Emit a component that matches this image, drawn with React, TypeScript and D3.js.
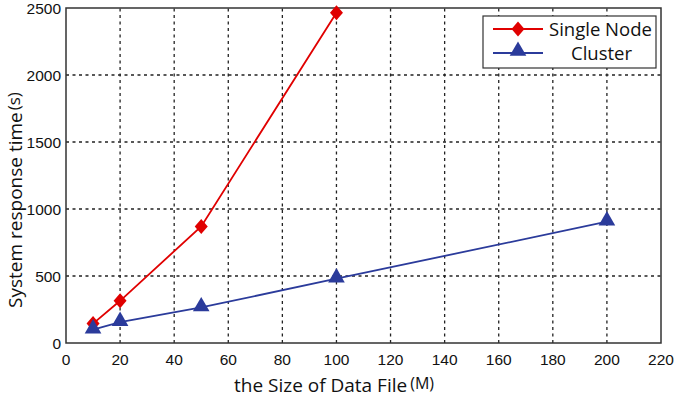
import React from "react";
import * as d3 from "d3";

const xTicks = [0, 20, 40, 60, 80, 100, 120, 140, 160, 180, 200, 220];
const yTicks = [0, 500, 1000, 1500, 2000, 2500];
const singleX = [10, 20, 50, 100];
const singleY = [145, 315, 870, 2465];
const clusterX = [10, 20, 50, 100, 200];
const clusterY = [100, 155, 265, 480, 905];
const seriesNames = ["Single Node", "Cluster"];

const W = 676, H = 401;
const M = { left: 66, right: 15, top: 8, bottom: 58 };

export default function App() {
  const x = d3.scaleLinear().domain([0, 220]).range([M.left, W - M.right]);
  const y = d3.scaleLinear().domain([0, 2500]).range([H - M.bottom, M.top]);
  const line = d3.line<[number, number]>().x(d => x(d[0])).y(d => y(d[1]));
  const single: [number, number][] = singleX.map((v, i) => [v, singleY[i]]);
  const cluster: [number, number][] = clusterX.map((v, i) => [v, clusterY[i]]);
  const red = "#e00000";
  const blue = "#2b3b9b";
  const diamond = "M0,-7.5L6.5,0L0,7.5L-6.5,0Z";
  const tri = d3.symbol().type(d3.symbolTriangle).size(120)()!;
  const tickFont = "'Liberation Sans', Arial, sans-serif";
  const labelFont = "'Open Sans', 'Noto Sans', sans-serif";
  const x0 = M.left, x1 = W - M.right, y0 = H - M.bottom, y1 = M.top;
  return (
    <svg width={W} height={H} style={{ position: "absolute", left: 0, top: 0, background: "#fff" }}>
      <rect x={0} y={0} width={W} height={H} fill="#fff" />
      {xTicks.slice(1, -1).map(t => (
        <line key={"gx" + t} x1={x(t)} x2={x(t)} y1={y0} y2={y1} stroke="#222" strokeWidth={1.3} strokeDasharray="3,3.5" />
      ))}
      {yTicks.slice(1, -1).map(t => (
        <line key={"gy" + t} x1={x0} x2={x1} y1={y(t)} y2={y(t)} stroke="#222" strokeWidth={1.3} strokeDasharray="3,3.5" />
      ))}
      <rect x={x0} y={y1} width={x1 - x0} height={y0 - y1} fill="none" stroke="#333" strokeWidth={1.5} />
      {xTicks.map(t => (
        <text key={"tx" + t} x={x(t)} y={y0 + 22} textAnchor="middle" fontSize={15.5} fontFamily={tickFont} fill="#111">{t}</text>
      ))}
      {yTicks.map(t => (
        <text key={"ty" + t} x={x0 - 5} y={y(t) + 6} textAnchor="end" fontSize={15.5} fontFamily={tickFont} fill="#111">{t}</text>
      ))}
      <path d={line(single)!} fill="none" stroke={red} strokeWidth={1.8} />
      <path d={line(cluster)!} fill="none" stroke={blue} strokeWidth={1.8} />
      {single.map((d, i) => (
        <path key={"s" + i} d={diamond} transform={`translate(${x(d[0])},${y(d[1])})`} fill={red} />
      ))}
      {cluster.map((d, i) => (
        <path key={"c" + i} d={tri} transform={`translate(${x(d[0])},${y(d[1]) - 1})`} fill={blue} />
      ))}
      <text x={334} y={392} textAnchor="middle" fontSize={19} fontFamily={labelFont} fill="#111">
        the Size of Data File<tspan dx={3} dy={-3} fontSize={16} fontFamily={labelFont}>(M)</tspan>
      </text>
      <text transform={`translate(22,200) rotate(-90)`} textAnchor="middle" fontSize={19} fontFamily={labelFont} fill="#111">
        System response time<tspan dx={2} dy={-2} fontSize={17} fontFamily={labelFont}>(s)</tspan>
      </text>
      <g>
        <rect x={483} y={16} width={173} height={52} fill="#fff" stroke="#333" strokeWidth={1.2} />
        <line x1={493} x2={543} y1={29} y2={29} stroke={red} strokeWidth={1.8} />
        <path d={diamond} transform="translate(518,29)" fill={red} />
        <text x={549} y={36} fontSize={18.5} fontFamily={labelFont} fill="#111">{seriesNames[0]}</text>
        <line x1={493} x2={543} y1={53} y2={53} stroke={blue} strokeWidth={1.8} />
        <path d={tri} transform="translate(518,51)" fill={blue} />
        <text x={571} y={60} fontSize={18.5} fontFamily={labelFont} fill="#111">{seriesNames[1]}</text>
      </g>
    </svg>
  );
}
